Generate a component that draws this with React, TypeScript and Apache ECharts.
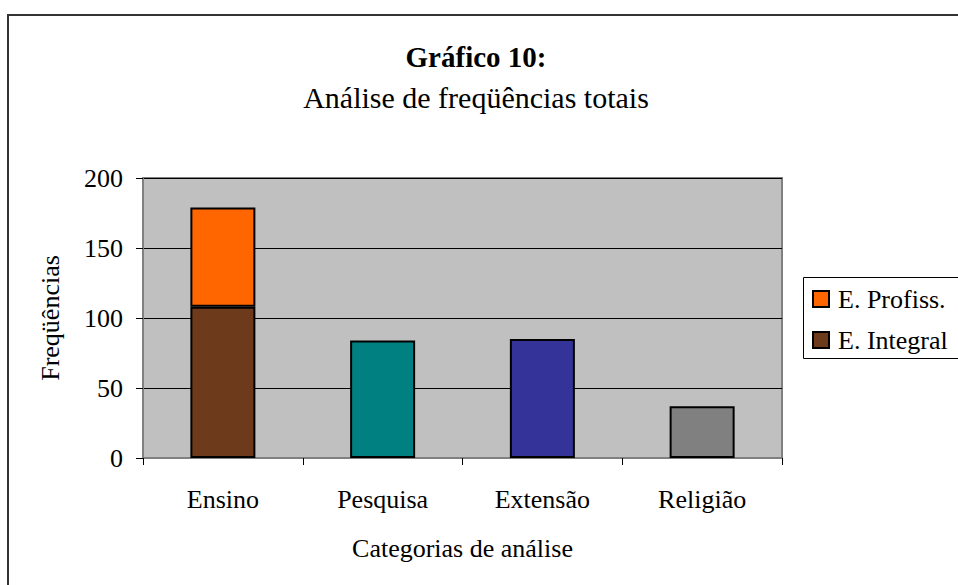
import React, { useEffect, useRef } from "react";
import * as echarts from "echarts";

const categories = ["Ensino", "Pesquisa", "Extensão", "Religião"];
const integralValues = [108, "-", "-", "-"];
const profissValues = [71, "-", "-", "-"];
const otherValues = ["-", 84, 85, 37];
const otherColors = ["", "#008080", "#333399", "#808080"];
const yTicks = [0, 50, 100, 150, 200];

const FONT = "Liberation Serif";

export default function App() {
  const ref = useRef<HTMLDivElement>(null);
  useEffect(() => {
    if (!ref.current) return;
    const chart = echarts.init(ref.current, undefined, { renderer: "svg" });
    const option: any = {
      animation: false,
      backgroundColor: "#ffffff",
      textStyle: { fontFamily: FONT, color: "#000" },
      graphic: [
        {
          type: "polyline",
          shape: { points: [[1100, 15], [8, 15], [8, 700]] },
          style: { fill: "none", stroke: "#333333", lineWidth: 2 },
          z: 0,
        },
        {
          type: "polyline",
          shape: { points: [[1100, 277.5], [803.5, 277.5], [803.5, 358.5], [1100, 358.5]] },
          style: { fill: "#fff", stroke: "#000", lineWidth: 1 },
          z: 1,
        },
        {
          type: "text",
          x: 476,
          y: 57,
          style: {
            text: "Gráfico 10:",
            fontFamily: FONT,
            fontSize: 29,
            fontWeight: "bold",
            fill: "#000",
            align: "center",
            verticalAlign: "middle",
          },
        },
        {
          type: "text",
          x: 476,
          y: 97,
          style: {
            text: "Análise de freqüências totais",
            fontFamily: FONT,
            fontSize: 30,
            fill: "#000",
            align: "center",
            verticalAlign: "middle",
          },
        },
      ],
      grid: {
        left: 143,
        top: 178,
        width: 639,
        height: 280,
        show: true,
        backgroundColor: "#C0C0C0",
        borderColor: "#808080",
        borderWidth: 2,
      },
      legend: {
        orient: "vertical",
        left: 803,
        top: 277,
        z: 5,
        padding: [9, 10, 5, 9],
        itemGap: 15,
        itemWidth: 16,
        itemHeight: 16,
        borderWidth: 0,
        icon: "rect",
        data: ["E. Profiss.", "E. Integral"],
        textStyle: { fontFamily: FONT, fontSize: 26, color: "#000", padding: [0, 0, 0, 4] },
      },
      xAxis: {
        type: "category",
        data: categories,
        name: "Categorias de análise",
        nameLocation: "middle",
        nameGap: 77,
        nameTextStyle: { fontFamily: FONT, fontSize: 26, color: "#000", verticalAlign: "top" },
        axisLine: { lineStyle: { color: "#808080", width: 2 } },
        axisTick: { show: true, length: 7, lineStyle: { color: "#000", width: 1 } },
        axisLabel: { fontFamily: FONT, fontSize: 26, color: "#000", margin: 28 },
      },
      yAxis: {
        type: "value",
        min: yTicks[0],
        max: yTicks[yTicks.length - 1],
        interval: 50,
        name: "Freqüências",
        nameLocation: "middle",
        nameGap: 80,
        nameTextStyle: { fontFamily: FONT, fontSize: 26, color: "#000" },
        axisLine: { show: true, lineStyle: { color: "#808080", width: 2 } },
        axisTick: { show: true, length: 7, lineStyle: { color: "#000", width: 1 } },
        axisLabel: { fontFamily: FONT, fontSize: 26, color: "#000", margin: 20 },
        splitLine: { show: true, lineStyle: { color: "#000", width: 1 } },
      },
      series: [
        {
          name: "E. Integral",
          type: "bar",
          stack: "total",
          barWidth: 65,
          data: integralValues,
          itemStyle: { color: "#6E3A1C", borderColor: "#000", borderWidth: 2 },
        },
        {
          name: "E. Profiss.",
          type: "bar",
          stack: "total",
          barWidth: 65,
          data: profissValues,
          itemStyle: { color: "#FF6600", borderColor: "#000", borderWidth: 2 },
        },
        {
          name: "Outros",
          type: "bar",
          stack: "total",
          barWidth: 65,
          data: otherValues.map((v, i) =>
            v === "-" ? "-" : { value: v, itemStyle: { color: otherColors[i] } }
          ),
          itemStyle: { borderColor: "#000", borderWidth: 2 },
        },
      ],
    };
    chart.setOption(option);
    return () => chart.dispose();
  }, []);
  return (
    <div
      ref={ref}
      style={{ position: "fixed", left: 0, top: 0, width: 958, height: 585 }}
    />
  );
}
